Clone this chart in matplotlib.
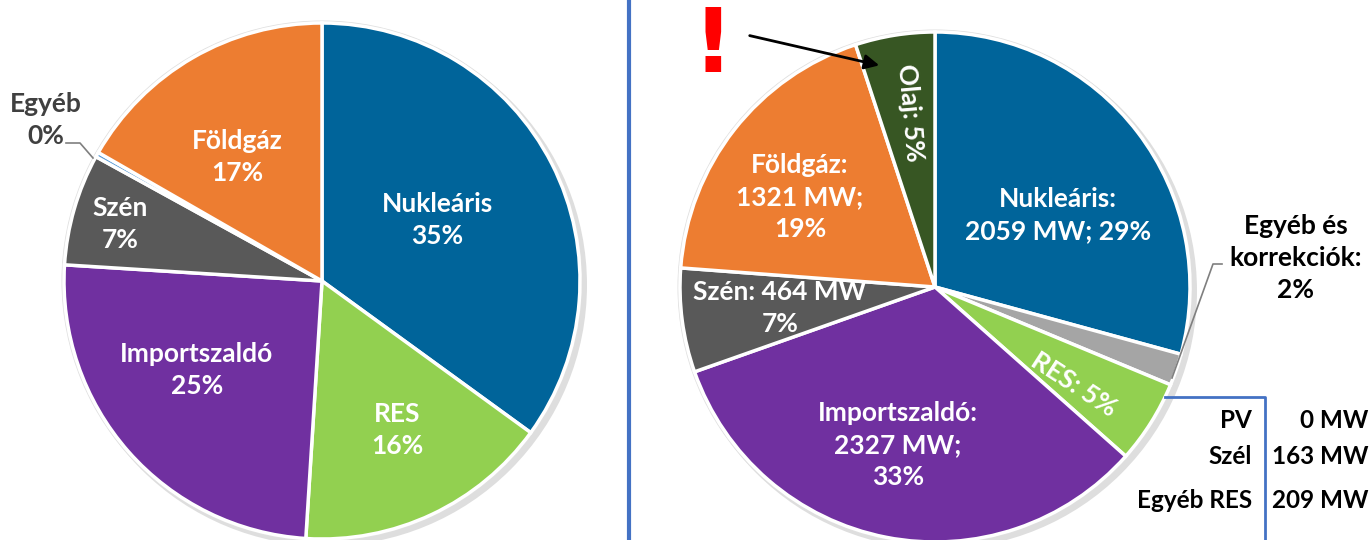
import matplotlib
matplotlib.use("Agg")
import matplotlib.pyplot as plt
from matplotlib.patches import Circle, FancyArrowPatch

plt.rcParams['font.family'] = ['Lato', 'DejaVu Sans']

# ---------------- data ----------------
left_names = ['Nukleáris', 'RES', 'Importszaldó', 'Szén', 'Egyéb', 'Földgáz']
left_shares = [35.0, 16.0, 25.0, 7.0, 0.3, 16.7]
left_pct = ['35%', '16%', '25%', '7%', '0%', '17%']

right_names = ['Nukleáris', 'Egyéb és korrekciók', 'RES', 'Importszaldó', 'Szén', 'Földgáz', 'Olaj']
right_mw = [2059, 142, 372, 2327, 464, 1321, 355]
right_pct = ['29%', '2%', '5%', '33%', '7%', '19%', '5%']

res_sources = ['PV', 'Szél', 'Egyéb RES']
res_mw = [0, 163, 209]

left_colors = ['#00649A', '#92D050', '#7030A0', '#595959', '#5B9BD5', '#ED7D31']
right_colors = ['#00649A', '#A5A5A5', '#92D050', '#7030A0', '#595959', '#ED7D31', '#375623']

# ---------------- figure ----------------
W, H = 1371, 540
fig = plt.figure(figsize=(W / 100, H / 100), dpi=100)
ax = fig.add_axes([0, 0, 1, 1])


def Y(y):
    return H - y


def draw_pie(vals, colors, cx, cy, r):
    ax.add_patch(Circle((cx + 4, Y(cy) - 4), r + 3, facecolor='#c8c8c8', edgecolor='none', alpha=0.6, zorder=0))
    ax.add_patch(Circle((cx, Y(cy)), r + 2.5, facecolor='#e0e0e0', edgecolor='none', zorder=0.5))
    wedges, _ = ax.pie(vals, colors=colors, startangle=90, counterclock=False,
                       center=(cx, Y(cy)), radius=r,
                       wedgeprops=dict(edgecolor='white', linewidth=2.5))
    for w in wedges:
        w.set_zorder(1)
    return wedges


draw_pie(left_shares, left_colors, 322, 281, 258)
draw_pie(right_mw, right_colors, 935, 287, 255)

ax.set_xlim(0, W)
ax.set_ylim(0, H)
ax.set_aspect('equal')
ax.axis('off')

FS = 19
WT = 'bold'
LS = 1.4
txt = dict(color='white', fontsize=FS, fontweight=WT, ha='center', va='center',
           linespacing=LS, zorder=5)

# ---- left pie labels ----
left_pos = {'Nukleáris': (437, 220), 'RES': (397, 430), 'Importszaldó': (197, 370),
            'Szén': (120, 224), 'Földgáz': (237, 157)}
for name, pct in zip(left_names, left_pct):
    if name in left_pos:
        x, y = left_pos[name]
        ax.text(x, Y(y), f"{name}\n{pct}", **txt)
# Egyéb outside
ax.text(46, Y(120), f"{left_names[4]}\n{left_pct[4]}", color='#404040', fontsize=FS,
        fontweight=WT, ha='center', va='center', linespacing=LS, zorder=5)
ax.plot([66, 80, 93], [Y(143), Y(143), Y(158)], color='#7f7f7f', lw=1.2, zorder=4)

# ---- right pie labels ----
ax.text(1058, Y(215), f"{right_names[0]}:\n{right_mw[0]} MW; {right_pct[0]}", **txt)
ax.text(800, Y(197), f"{right_names[5]}:\n{right_mw[5]} MW;\n{right_pct[5]}", **txt)
ax.text(898, Y(445), f"{right_names[3]}:\n{right_mw[3]} MW;\n{right_pct[3]}", **txt)
ax.text(780, Y(308), f"{right_names[4]}: {right_mw[4]} MW\n{right_pct[4]}", **txt)
t = dict(txt)
t.update(rotation=-85, rotation_mode='anchor')
ax.text(910, Y(113), f"{right_names[6]}: {right_pct[6]}", **t)
t = dict(txt)
t.update(rotation=-33, rotation_mode='anchor')
ax.text(1074, Y(385), f"{right_names[2]}: {right_pct[2]}", **t)

# Egyéb és korrekciók outside
lab = right_names[1].replace(' korrekciók', '\nkorrekciók:')
ax.text(1296, Y(258), f"{lab}\n{right_pct[1]}", color='black', fontsize=FS,
        fontweight=WT, ha='center', va='center', linespacing=LS, zorder=5)
ax.plot([1222, 1213, 1172], [Y(264), Y(264), Y(378)], color='#7f7f7f', lw=1.2, zorder=4)

# RES breakdown table
blue = '#4472C4'
TFS = 17.5
ax.plot([1165, 1265, 1265], [Y(397), Y(397), Y(540)], color=blue, lw=2, zorder=4)
for (src, mw), yy in zip(zip(res_sources, res_mw), [420, 457, 500]):
    ax.text(1252, Y(yy), src, color='black', fontsize=TFS, fontweight=WT, ha='right', va='center')
    ax.text(1368, Y(yy), f"{mw} MW", color='black', fontsize=TFS, fontweight=WT, ha='right', va='center')

# divider
ax.plot([629, 629], [0, H], color=blue, lw=3, zorder=4)

# exclamation + arrow
ax.text(713, Y(47), '!', color='#FF0000', fontsize=64, fontweight='bold',
        family='DejaVu Sans', ha='center', va='center')
ax.add_patch(FancyArrowPatch((747, Y(35)), (882, Y(66)), arrowstyle='-|>', mutation_scale=22,
                             color='black', lw=2, zorder=6))

fig.savefig('out.png', dpi=100)
